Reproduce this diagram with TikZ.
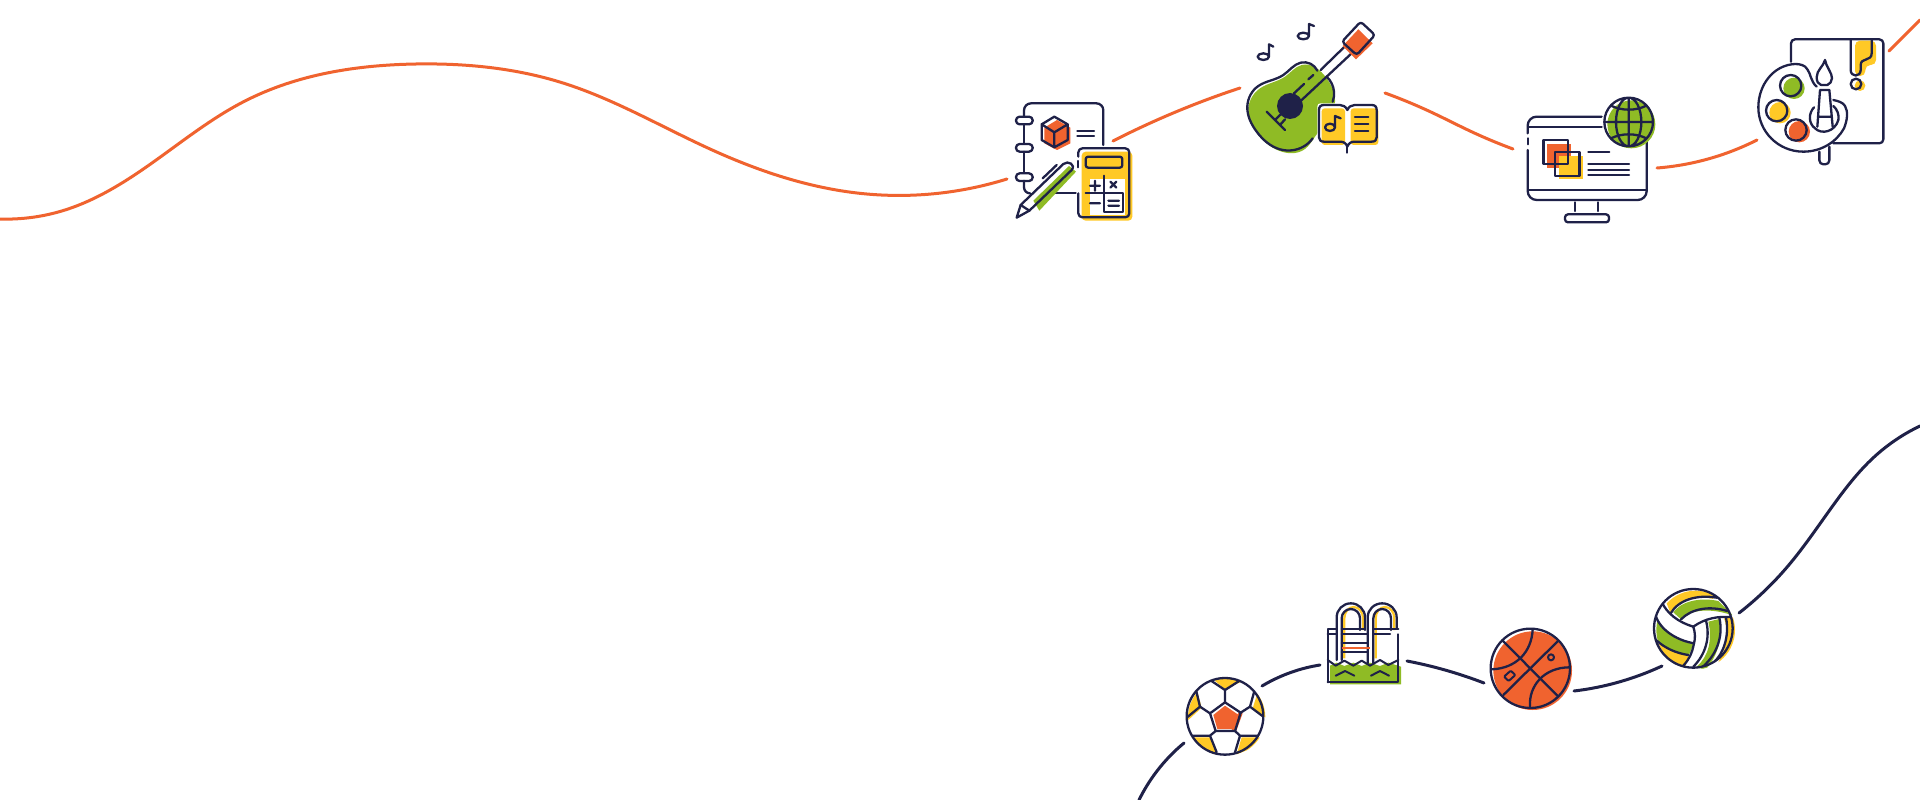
\documentclass[tikz,border=0pt]{standalone}
\usetikzlibrary{hobby}
\definecolor{navy}{HTML}{1F2148}
\definecolor{org}{HTML}{F0632F}
\definecolor{ylw}{HTML}{FFC926}
\definecolor{grn}{HTML}{8FBB25}
\tikzset{
 z/.style 2 args={shift={(#1,#2)},x=.33333pt,y=-.33333pt},
 ink/.style={draw=navy,line width=2.3pt,line cap=round,line join=round},
 thin ink/.style={draw=navy,line width=2pt,line cap=round,line join=round},
 oline/.style={draw=org,line width=3pt,line cap=round,use Hobby shortcut},
 nline/.style={draw=navy,line width=3pt,line cap=round,use Hobby shortcut},
}
\begin{document}
\begin{tikzpicture}[x=1pt,y=-1pt]
\useasboundingbox (0,0) rectangle (1920,800);
\fill[white] (0,0) rectangle (1920,800);
% connectors orange
\draw[oline] (0,219) .. (65,210) .. (159,158) .. (245,101) .. (416,64) .. (563,83) .. (710,149) .. (857,193) .. (1007,179);
\draw[oline] (1113,141) .. (1178,111) .. (1240,88);
\draw[oline] (1385,93) .. (1433,113) .. (1470,131) .. (1513,149);
\draw[oline] (1657,168) .. (1708,159) .. (1757,140);
\draw[oline] (1889,51) .. (1920,20);
% connectors navy
\draw[nline] (1139,800) .. (1157,771) .. (1184,743);
\draw[nline] (1262,686) .. (1292,672) .. (1320,665);
\draw[nline] (1407,661) .. (1445,670) .. (1484,683);
\draw[nline] (1574,691) .. (1619,682) .. (1662,666);
\draw[nline] (1739,613) .. (1788,566) .. (1837,500) .. (1873,458) .. (1920,426);
% ---- notebook / calculator
\begin{scope}[z={1000}{90}]
 \fill[org] (171,90)--(211,113)--(211,160)--(171,180)--(133,160)--(133,113)--cycle;
 \draw[ink,rounded corners=7pt] (310,165)--(310,40)--(72,40)--(72,80);
 \draw[ink] (72,105)--(72,160) (72,185)--(72,247);
 \draw[ink,rounded corners=6pt] (72,272)--(72,310)--(90,310);
 \foreach \yy in {80,162,250} \draw[ink,rounded corners=3.6pt] (48,\yy) rectangle (98,\yy+23);
 \draw[ink] (163,80)--(203,103)--(203,150)--(163,172)--(125,150)--(125,103)--cycle (125,103)--(163,127)--(203,103) (163,127)--(163,172);
 \draw[ink] (232,122)--(282,122) (232,138)--(282,138) (165,310)--(227,310);
 \fill[ylw,rounded corners=4pt] (245,185) rectangle (397,392);
 \fill[white] (270,268) rectangle (375,375);
 \draw[ink,rounded corners=4pt] (235,200)--(235,175)--(388,175)--(388,382)--(235,382)--(235,310);
 \draw[ink] (235,213)--(235,232);
 \draw[ink,fill=ylw,rounded corners=2.5pt] (257,200) rectangle (367,233);
 \draw[ink] (312,257)--(312,367)--(368,367)--(368,310)--(257,310);
 \draw[ink] (270,287)--(300,287) (285,272)--(285,302) (331,275)--(349,293) (349,275)--(331,293) (270,340)--(300,340) (325,332)--(357,332) (325,347)--(357,347);
 \fill[grn] (100,332)--(207,228)--(228,245)--(118,362)--cycle;
 \draw[ink] (50,383)--(62,345)--(190,222) .. controls (205,210) and (228,225) .. (215,240)--(88,362)--cycle;
 \draw[ink] (62,345)--(88,362) (128,265)--(170,225);
\end{scope}
% ---- guitar
\begin{scope}[z={1230}{10}]
 \fill[grn,use Hobby shortcut,closed=true] (215,165) .. (165,200) .. (90,235) .. (55,295) .. (85,375) .. (155,425) .. (225,417) .. (255,380) .. (315,275) .. (290,205);
 \draw[ink,use Hobby shortcut] (262,182) .. (212,158) .. (160,195) .. (85,228) .. (52,288) .. (80,365) .. (150,418) .. (220,410) .. (248,385);
 \draw[ink,use Hobby shortcut] (290,200) .. (312,245) .. (308,275);
 \fill[navy] (180,288) circle[radius=39];
 \draw[ink] (215,270)--(368,127) (272,180)--(352,102) (192,250)--(222,222) (235,208)--(250,195);
 \draw[ink] (110,305)--(165,360) (135,330)--(150,315) (150,345)--(165,328);
 \fill[org] (385,58)--(428,100)--(378,148)--(338,108)--cycle;
 \draw[ink,rounded corners=3pt] (392,35)--(435,75)--(380,135)--(336,95)--cycle;
 \draw[ink] (100,140) ellipse[x radius=17,y radius=10] (117,140)--(117,103)--(130,110);
 \draw[ink] (220,78) ellipse[x radius=17,y radius=10] (237,78)--(237,42)--(252,48);
 \fill[white,rounded corners=3pt] (262,280) rectangle (447,435);
 \fill[ylw,rounded corners=3pt] (275,295) rectangle (345,405);
 \fill[ylw,rounded corners=3pt] (362,295) rectangle (445,405);
 \draw[ink] (352,300) .. controls (347,290) and (340,285) .. (330,285)--(282,285) .. controls (272,285) and (267,290) .. (267,300)--(267,382) .. controls (267,390) and (272,395) .. (282,395)--(330,395) .. controls (342,395) and (348,400) .. (352,410) .. controls (356,400) and (362,395) .. (374,395)--(425,395) .. controls (435,395) and (440,390) .. (440,382)--(440,300) .. controls (440,290) and (435,285) .. (425,285)--(374,285) .. controls (364,285) and (357,290) .. (352,300)--cycle;
 \draw[ink] (352,410)--(352,428);
 \draw[ink] (300,352) ellipse[x radius=15,y radius=11] (315,352)--(315,318)--(332,325);
 \draw[ink] (375,322)--(415,322) (375,342)--(415,342) (375,362)--(415,362);
\end{scope}
% ---- monitor
\begin{scope}[z={1510}{85}]
 \draw[ink,rounded corners=9pt] (275,95)--(53,95)--(53,145);
 \draw[ink] (53,160)--(53,178) (55,125)--(275,125) (55,315)--(410,315);
 \draw[ink,rounded corners=9pt] (53,195)--(53,345)--(410,345)--(410,172);
 \draw[ink] (195,352)--(195,378) (265,352)--(265,378);
 \draw[ink,rounded corners=3pt] (165,388) rectangle (297,412);
 \fill[org] (112,178) rectangle (183,248);
 \fill[ylw] (148,213) rectangle (218,283);
 \draw[ink] (100,165) rectangle (173,238) (135,200) rectangle (208,273);
 \draw[ink] (235,200)--(298,200) (235,237)--(357,237) (235,254)--(357,254) (235,271)--(357,271);
 \fill[white] (356,111) circle[radius=74];
 \fill[grn] (364,118) circle[radius=72];
 \draw[ink] (356,111) circle[radius=73] (356,111) ellipse[x radius=38,y radius=73] (356,38)--(356,184) (283,111)--(429,111);
 \draw[ink] (303,62) .. controls (335,78) and (377,78) .. (409,62) (303,160) .. controls (335,144) and (377,144) .. (409,160);
\end{scope}
% ---- palette
\begin{scope}[z={1740}{20}]
 \draw[ink,rounded corners=4pt] (153,125)--(153,58)--(430,58)--(430,370)--(280,370);
 \fill[ylw,rounded corners=5pt] (345,62)--(408,62)--(408,135)--(376,135)--(376,168)--(345,168)--cycle;
 \draw[ink] (332,60)--(332,150) .. controls (332,172) and (362,172) .. (362,150)--(362,135) .. controls (362,112) and (395,125) .. (395,100)--(395,60);
 \fill[ylw] (360,197) circle[radius=16];
 \draw[ink] (348,192) circle[radius=16];
 \draw[ink] (230,200) .. controls (212,185) and (212,160) .. (202,148) .. controls (195,135) and (180,132) .. (165,132) .. controls (100,135) and (55,195) .. (55,262) .. controls (55,335) and (115,395) .. (190,395) .. controls (245,395) and (290,365) .. (312,325) .. controls (322,300) and (325,275) .. (315,258) .. controls (310,248) and (295,243) .. (280,240);
 \fill[grn] (162,205) circle[radius=32];
 \draw[ink] (152,197) circle[radius=32];
 \fill[ylw] (120,278) circle[radius=32];
 \draw[ink] (110,272) circle[radius=32];
 \fill[org] (178,335) circle[radius=32];
 \draw[ink] (168,330) circle[radius=32];
 \draw[ink] (255,120) .. controls (250,140) and (230,150) .. (230,172) .. controls (230,185) and (235,192) .. (243,195) (255,120) .. controls (258,140) and (277,160) .. (276,175) .. controls (275,185) and (270,192) .. (262,195) (243,195)--(262,195);
 \draw[ink] (232,320)--(240,210)--(268,210)--(278,320) (234,290)--(275,290);
 \draw[ink] (222,262) .. controls (205,280) and (205,310) .. (225,325) .. controls (245,345) and (285,335) .. (295,300) .. controls (298,285) and (292,268) .. (280,258);
 \draw[ink,rounded corners=4pt] (238,395)--(238,433)--(268,433)--(268,380);
\end{scope}
% ---- soccer
\begin{scope}[z={1170}{665}]
 \fill[white] (165,154) circle[radius=115];
 \begin{scope}
  \clip (170,157) circle[radius=116];
  \fill[ylw] (125,40)--(165,72)--(215,50)--(215,35)--(125,35)--cycle;
  \fill[ylw] (82,80)--(95,128)--(55,165)--(45,110)--cycle;
  \fill[ylw] (262,85)--(248,130)--(290,160)--(290,90)--cycle;
  \fill[ylw] (55,217)--(122,217)--(142,268)--(85,268)--cycle;
  \fill[ylw] (215,217)--(272,217)--(270,240)--(200,268)--cycle;
 \end{scope}
 \fill[org] (205,143)--(218,145)--(197,202)--(185,195)--cycle;
 \fill[org] (165,122)--(206,150)--(190,192)--(142,192)--(130,150)--cycle;
 \begin{scope}
  \clip (165,154) circle[radius=115];
  \draw[ink] (165,112)--(212,143)--(195,198)--(137,198)--(120,145)--cycle;
  \draw[ink] (165,112)--(165,75) (120,45)--(165,75)--(212,45);
  \draw[ink] (212,143)--(240,125)--(280,155) (240,125)--(252,82);
  \draw[ink] (120,145)--(90,125)--(50,158) (90,125)--(78,75);
  \draw[ink] (137,198)--(120,212)--(55,212) (120,212)--(140,262);
  \draw[ink] (195,198)--(210,212)--(270,212) (210,212)--(195,262);
 \end{scope}
 \draw[ink] (165,154) circle[radius=115];
\end{scope}
% ---- pool
\begin{scope}[z={1315}{595}]
 \fill[grn] (45,212)--(65,203)--(88,213)--(115,203)--(140,213)--(165,203)--(195,213)--(220,203)--(258,215)--(258,268)--(45,268)--cycle;
 \draw[draw=ylw,line width=2.2pt] (88,190)--(88,70) arc[start angle=180,end angle=360,x radius=28,y radius=34]--(144,105);
 \draw[draw=ylw,line width=2.2pt] (182,190)--(182,70) arc[start angle=180,end angle=360,x radius=28,y radius=34]--(238,105);
 \draw[ink] (65,195)--(65,67) arc[start angle=180,end angle=360,x radius=42.5,y radius=42]--(150,105);
 \draw[ink] (80,195)--(80,70) arc[start angle=180,end angle=360,x radius=27.5,y radius=28]--(135,105);
 \draw[ink] (158,205)--(158,67) arc[start angle=180,end angle=360,x radius=43.5,y radius=42]--(245,100);
 \draw[ink] (175,205)--(175,70) arc[start angle=180,end angle=360,x radius=26.5,y radius=28]--(228,105);
 \draw[ink] (38,262)--(38,102)--(62,102) (38,118)--(62,118) (80,102)--(150,102) (80,118)--(155,118) (175,102)--(250,102) (175,118)--(225,118);
 \draw[ink] (250,118)--(250,262)--(38,262);
 \draw[ink] (80,145)--(158,145) (80,170)--(158,170);
 \draw[draw=org,line width=2pt] (80,158)--(165,158);
 \draw[thin ink] (38,195)--(62,212)--(88,197)--(115,212)--(140,197)--(165,212)--(195,195)--(220,210)--(250,195);
 \draw[thin ink] (62,242)--(90,228)--(118,242) (168,242)--(195,228)--(222,242);
\end{scope}
% ---- basketball
\begin{scope}[z={1480}{620}]
 \fill[org] (158,152) circle[radius=118];
 \draw[ink] (151,145) circle[radius=119];
 \draw[ink] (68,62)--(235,230) (235,62)--(70,225);
 \draw[ink] (158,28) .. controls (155,95) and (110,145) .. (35,148);
 \draw[ink] (150,262) .. controls (145,195) and (195,142) .. (268,142);
 \draw[thin ink,rounded corners=1pt] (72,170)--(92,152)--(106,165)--(86,183)--cycle;
 \draw[thin ink] (213,112) circle[radius=9];
\end{scope}
% ---- volleyball
\begin{scope}[z={1650}{585}]
 \fill[white] (130,130) circle[radius=118];
 \begin{scope}
  \clip (137,135) circle[radius=118];
  \fill[ylw] (50,55) .. controls (85,15) and (140,5) .. (190,25) -- (190,42) .. controls (140,30) and (85,45) .. (62,85) -- cycle;
  \fill[grn] (70,82) .. controls (90,52) and (145,35) .. (205,48) -- (250,92) .. controls (190,70) and (125,70) .. (93,103) -- cycle;
  \fill[grn] (18,95) .. controls (35,135) and (75,165) .. (130,178) -- (116,212) .. controls (75,205) and (40,190) .. (15,160) -- cycle;
  \fill[ylw] (20,168) .. controls (50,190) and (80,205) .. (115,212) -- (105,250) -- (40,240) -- cycle;
  \fill[grn] (175,110) -- (208,102) .. controls (222,165) and (195,225) .. (165,255) -- (140,245) .. controls (175,215) and (188,165) .. (175,110) -- cycle;
  \fill[ylw] (222,100) -- (265,95) -- (265,190) -- (200,240) .. controls (228,195) and (240,150) .. (222,100) -- cycle;
 \end{scope}
 \begin{scope}
  \clip (130,130) circle[radius=118];
  \draw[ink] (35,50) .. controls (50,85) and (85,112) .. (130,125);
  \draw[ink] (15,85) .. controls (25,130) and (75,165) .. (132,175);
  \draw[ink] (130,125) .. controls (136,145) and (136,160) .. (132,175) .. controls (126,205) and (118,222) .. (100,242);
  \draw[ink] (130,125) .. controls (165,100) and (205,92) .. (250,97);
  \draw[ink] (168,107) .. controls (182,160) and (165,210) .. (130,245);
  \draw[ink] (208,98) .. controls (222,160) and (195,215) .. (155,248);
  \draw[ink] (228,98) .. controls (240,160) and (215,210) .. (195,228);
  \draw[ink] (62,85) .. controls (85,45) and (140,28) .. (200,38);
  \draw[ink] (93,103) .. controls (125,70) and (180,62) .. (232,78);
  \draw[ink] (18,165) .. controls (45,190) and (80,205) .. (115,210);
 \end{scope}
 \draw[ink] (130,130) circle[radius=118];
\end{scope}
\end{tikzpicture}
\end{document}
